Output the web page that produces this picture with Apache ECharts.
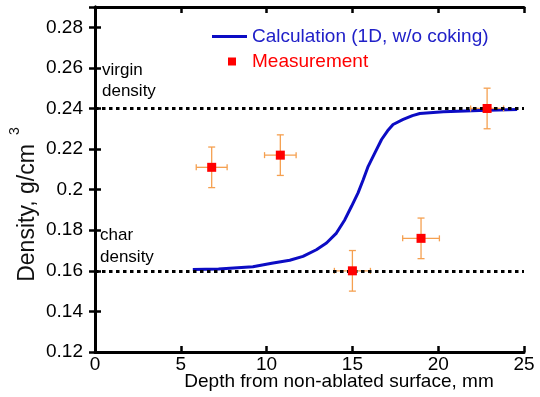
<!DOCTYPE html>
<html>
<head>
<meta charset="utf-8">
<script src="https://cdn.jsdelivr.net/npm/echarts@6/dist/echarts.min.js"></script>
<style>
html,body{margin:0;padding:0;background:#fff;}
#chart{width:540px;height:397px;}
</style>
</head>
<body>
<div id="chart"></div>
<script>
// ---- data ----
const calcX = [5.7, 7.2, 7.3, 9.2, 9.3, 10.3, 11.35, 12.12, 12.9, 13.49, 14.07, 14.56, 14.95, 15.33, 15.63, 15.92, 16.31, 16.7, 17.05, 17.37, 17.96, 18.5, 18.93, 20.3, 22.4, 24.6];
const calcY = [0.1607, 0.1609, 0.1617, 0.1620, 0.1628, 0.1637, 0.1652, 0.1671, 0.1704, 0.1737, 0.1786, 0.1852, 0.1918, 0.1984, 0.2049, 0.2115, 0.2181, 0.2247, 0.2290, 0.2321, 0.2346, 0.2365, 0.2375, 0.2384, 0.2390, 0.2395];
const measX = [6.8, 10.8, 15.0, 19.0, 22.85];
const measY = [0.211, 0.217, 0.160, 0.176, 0.240];
const measXErr = [0.9, 0.92, 1.05, 1.07, 0.96];
const measYErr = [0.01, 0.01, 0.01, 0.01, 0.01];
const virginDensity = 0.242;
const charDensity = 0.16;
const xTicks = {min: 0, max: 25, interval: 5};
const yTicks = {min: 0.12, max: 0.29, interval: 0.02};
const seriesNames = ['Calculation (1D, w/o coking)', 'Measurement'];

const FONT = '"Liberation Sans", Arial, sans-serif';
const chart = echarts.init(document.getElementById('chart'));

const calcData = calcX.map((x, i) => [x, calcY[i]]);
const measData = measX.map((x, i) => [x, measY[i]]);
const errData = measX.map((x, i) => [x, measY[i], measXErr[i], measYErr[i]]);

const axisLineStyle = {color: '#000', width: 3};
const tickStyle = {show: true, inside: true, length: 6, lineStyle: {color: '#000', width: 2.5}};

const option = {
  animation: false,
  backgroundColor: '#fff',
  grid: {left: 95, right: 16, top: 7, bottom: 45},
  legend: [
    {
      data: [{name: seriesNames[0], icon: 'rect'}], left: 207, top: 22, itemWidth: 35, itemHeight: 3,
      textStyle: {color: '#2020c8', fontSize: 19, fontFamily: FONT}, selectedMode: false
    },
    {
      data: [{name: seriesNames[1], icon: 'rect'}], left: 223, top: 47, itemWidth: 8, itemHeight: 8,
      textStyle: {color: '#ff0000', fontSize: 19, fontFamily: FONT, padding: [0, 0, 0, 11]}, selectedMode: false
    }
  ],
  xAxis: [
    {
      type: 'value', min: xTicks.min, max: xTicks.max, interval: xTicks.interval,
      axisLine: {lineStyle: axisLineStyle}, axisTick: tickStyle, splitLine: {show: false},
      axisLabel: {color: '#000', fontSize: 19, fontFamily: FONT, margin: 3}
    },
    {
      type: 'value', position: 'top', min: xTicks.min, max: xTicks.max, interval: xTicks.interval,
      axisLine: {lineStyle: axisLineStyle}, axisTick: tickStyle, splitLine: {show: false},
      axisLabel: {show: false}
    }
  ],
  yAxis: [
    {
      type: 'value', min: yTicks.min, max: yTicks.max, interval: yTicks.interval,
      axisLine: {lineStyle: axisLineStyle}, axisTick: tickStyle, splitLine: {show: false},
      axisLabel: {color: '#000', fontSize: 19, fontFamily: FONT, margin: 12, showMaxLabel: false,
        formatter: v => String(parseFloat(v.toFixed(2)))}
    },
    {
      type: 'value', position: 'right', min: yTicks.min, max: yTicks.max, interval: yTicks.interval,
      axisLine: {lineStyle: axisLineStyle}, axisTick: tickStyle, splitLine: {show: false},
      axisLabel: {show: false}
    }
  ],
  graphic: [
    {type: 'text', x: 102, y: 70, style: {text: 'virgin', font: '17px ' + FONT, fill: '#000', textVerticalAlign: 'middle'}},
    {type: 'text', x: 102, y: 91, style: {text: 'density', font: '17px ' + FONT, fill: '#000', textVerticalAlign: 'middle'}},
    {type: 'text', x: 100, y: 235, style: {text: 'char', font: '17px ' + FONT, fill: '#000', textVerticalAlign: 'middle'}},
    {type: 'text', x: 100, y: 257, style: {text: 'density', font: '17px ' + FONT, fill: '#000', textVerticalAlign: 'middle'}},
    {type: 'text', x: 339, y: 382, style: {text: 'Depth from non-ablated surface, mm', font: '19px ' + FONT, fill: '#000', textAlign: 'center', textVerticalAlign: 'middle'}},
    {type: 'text', x: 28, y: 213, rotation: Math.PI / 2, style: {text: 'Density, g/cm', font: '23px ' + FONT, fill: '#111', textAlign: 'center', textVerticalAlign: 'middle'}},
    {type: 'text', x: 15, y: 131, rotation: Math.PI / 2, style: {text: '3', font: '14px ' + FONT, fill: '#111', textAlign: 'center', textVerticalAlign: 'middle'}}
  ],
  series: [
    {
      name: seriesNames[0], type: 'line', data: calcData, showSymbol: false, symbol: 'none',
      lineStyle: {color: '#0c0cc4', width: 3}, itemStyle: {color: '#0c0cc4'}, z: 3,
      markLine: {
        silent: true, symbol: 'none', label: {show: false},
        lineStyle: {color: '#000', type: [3.5, 3.5], width: 3},
        data: [{yAxis: virginDensity}, {yAxis: charDensity}]
      }
    },
    {
      name: 'errors', type: 'custom', data: errData, z: 4,
      renderItem: function (params, api) {
        const x = api.value(0), y = api.value(1), ex = api.value(2), ey = api.value(3);
        const l = api.coord([x - ex, y]), r = api.coord([x + ex, y]);
        const t = api.coord([x, y + ey]), b = api.coord([x, y - ey]);
        const st = {stroke: '#f5a050', lineWidth: 1.3};
        const ln = (x1, y1, x2, y2) => ({type: 'line', shape: {x1, y1, x2, y2}, style: st});
        return {type: 'group', children: [
          ln(l[0], l[1], r[0], r[1]),
          ln(l[0], l[1] - 3, l[0], l[1] + 3),
          ln(r[0], r[1] - 3, r[0], r[1] + 3),
          ln(t[0], t[1], b[0], b[1]),
          ln(t[0] - 3.5, t[1], t[0] + 3.5, t[1]),
          ln(b[0] - 3.5, b[1], b[0] + 3.5, b[1])
        ]};
      }
    },
    {
      name: seriesNames[1], type: 'scatter', data: measData, symbol: 'rect', symbolSize: 9,
      itemStyle: {color: '#ff0000', opacity: 1}, z: 5
    }
  ]
};
chart.setOption(option);
</script>
</body>
</html>
